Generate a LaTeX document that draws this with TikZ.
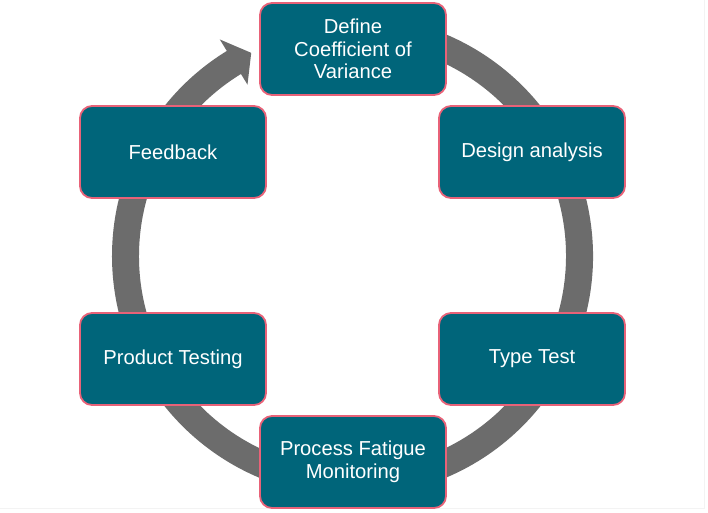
\documentclass[tikz,border=0pt]{standalone}
\usepackage{fontspec}
\setmainfont{Liberation Sans}
\definecolor{boxteal}{RGB}{0,101,122}
\definecolor{boxedge}{RGB}{232,98,120}
\definecolor{ringgray}{RGB}{108,108,108}
\definecolor{framegray}{RGB}{243,243,243}
\begin{document}
\begin{tikzpicture}[x=1pt,y=-1pt,
  stepbox/.style={draw=boxedge, line width=1.8pt, fill=boxteal, rounded corners=12pt,
    minimum width=186pt, minimum height=92pt, text=white, align=center,
    font=\fontsize{20.2}{22.5}\selectfont, inner sep=2pt}]
\useasboundingbox (0,0) rectangle (708,512);
\fill[white] (0,0) rectangle (708,512);
\draw[framegray, line width=0.8pt] (704,0) -- (704,508) -- (0,508);
% ring with arrow
\begin{scope}[shift={(352.5,256)}, x=1pt, y=1pt]
\fill[ringgray] (100:240.5) arc[start angle=100, end angle=-238.5, radius=240.5]
  -- (121.5:254) -- (116.5:227) -- (121.5:201) -- (121.5:213.5)
  arc[start angle=-238.5, end angle=100, radius=213.5] -- cycle;
\end{scope}
\node[stepbox] (def) at (353,49) {Define\\Coefficient of\\Variance};
\node[stepbox] (des) at (532,152) {Design analysis};
\node[stepbox] (typ) at (532,359) {Type Test};
\node[stepbox] (pfm) at (353,462) {Process Fatigue\\Monitoring};
\node[stepbox] (prt) at (173,359) {Product Testing};
\node[stepbox] (fbk) at (173,152) {Feedback};
\end{tikzpicture}
\end{document}
